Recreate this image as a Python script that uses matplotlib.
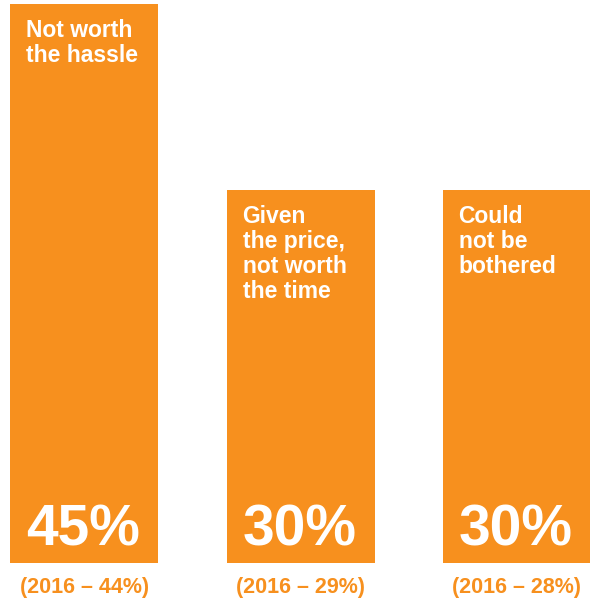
import matplotlib
matplotlib.use('Agg')
import matplotlib.pyplot as plt

# data
reasons = ["Not worth\nthe hassle",
           "Given\nthe price,\nnot worth\nthe time",
           "Could\nnot be\nbothered"]
share_now = [45, 30, 30]
share_2016 = [44, 29, 28]

orange = "#F7901E"
plt.rcParams['font.family'] = ['Liberation Sans', 'DejaVu Sans']

fig = plt.figure(figsize=(5.9, 6.0), dpi=100)
ax = fig.add_axes([0, 37 / 600, 1, 563 / 600])

x = list(range(len(reasons)))
bars = ax.bar(x, share_now, width=0.685, color=orange, align='center')
ax.set_xlim(-0.391, 2.34)
ax.set_ylim(0, 45.32)
ax.axis('off')

for i, b in enumerate(bars):
    left = b.get_x()
    top = b.get_height()
    # heading inside the top of the bar
    ax.annotate(reasons[i], xy=(left, top), xytext=(16, -15),
                textcoords='offset pixels', ha='left', va='top',
                color='white', fontsize=16.5, fontweight='bold',
                linespacing=1.1)
    # big percentage at the bottom
    ax.annotate(f"{share_now[i]}%", xy=(left, 0), xytext=(16, 18),
                textcoords='offset pixels', ha='left', va='baseline',
                color='white', fontsize=41, fontweight='bold')
    # previous year's value below the bar
    ax.annotate(f"(2016 \u2013 {share_2016[i]}%)", xy=(b.get_x() + b.get_width() / 2, 0),
                xytext=(0, -24), textcoords='offset pixels', ha='center', va='center',
                color=orange, fontsize=15.5, fontweight='bold', annotation_clip=False)

fig.savefig('out.png', dpi=100)
